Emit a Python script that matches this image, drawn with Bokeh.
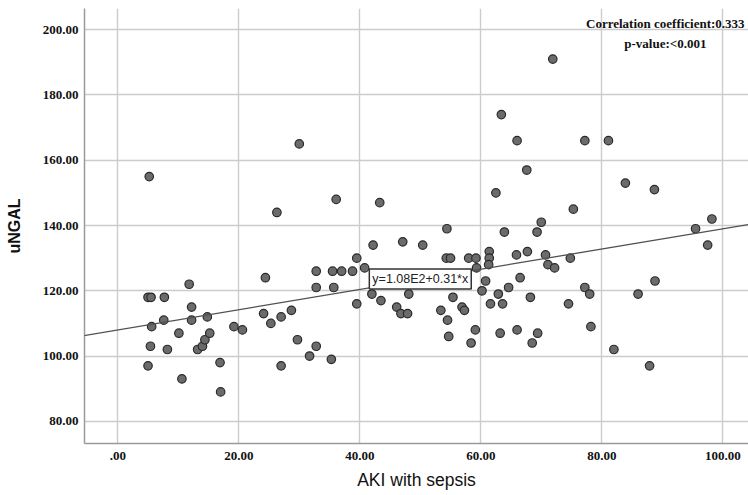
from bokeh.plotting import figure
from bokeh.models import Range1d, FixedTicker, Label, Slope, ColumnDataSource
from bokeh.embed import file_html
from bokeh.resources import INLINE

# ---- data ----
aki = [5.0, 5.2, 5.0, 5.5, 5.6, 5.4, 7.7, 7.6, 8.2, 10.1, 10.6, 11.8, 12.2, 12.2,
       13.2, 14.0, 14.4, 14.8, 15.2, 16.9, 17.0, 19.2, 20.6, 24.1, 24.4, 25.3,
       26.3, 27.0, 27.0, 28.7, 29.7, 30.0, 31.7, 32.8, 32.8, 32.8, 35.3, 35.5,
       35.7, 36.1, 37.0, 38.8, 39.5, 39.5, 40.8, 42.0, 42.2, 43.3, 43.5, 46.1,
       46.8, 47.1, 47.9, 48.1, 50.4, 53.4, 54.4, 54.3, 55.0, 54.5, 54.7, 55.4,
       56.9, 57.3, 58.0, 58.4, 59.1, 59.2, 59.3, 60.2, 60.8, 61.4, 61.4, 61.3,
       61.6, 62.5, 62.9, 63.2, 63.4, 63.6, 63.9, 64.6, 65.9, 66.0, 66.0, 66.5,
       67.6, 67.7, 68.2, 68.5, 69.3, 69.4, 70.0, 70.7, 71.1, 71.9, 72.2, 74.5,
       74.8, 75.3, 77.2, 77.2, 78.0, 78.2, 81.1, 82.0, 83.9, 86.0, 87.9, 88.7,
       88.8, 95.5, 97.5, 98.2]
ungal = [97, 155, 118, 118, 109, 103, 118, 111, 102, 107, 93, 122, 115, 111,
         102, 103, 105, 112, 107, 98, 89, 109, 108, 113, 124, 110,
         144, 112, 97, 114, 105, 165, 100, 126, 121, 103, 99, 126,
         121, 148, 126, 126, 130, 116, 127, 119, 134, 147, 117, 115,
         113, 135, 113, 119, 134, 114, 139, 130, 130, 111, 106, 118,
         115, 114, 130, 104, 108, 130, 127, 120, 123, 132, 130, 128,
         116, 150, 119, 107, 174, 116, 138, 121, 131, 108, 166, 124,
         157, 132, 118, 104, 138, 107, 141, 131, 128, 191, 127, 116,
         130, 145, 166, 121, 119, 109, 166, 102, 153, 119, 97, 151,
         123, 139, 134, 142]

fit_intercept = 108.0
fit_slope = 0.31
fit_text = "y=1.08E2+0.31*x"
corr_text = "Correlation coefficient:0.333"
p_text = "p-value:<0.001"

x_ticks = [0, 20, 40, 60, 80, 100]
x_tick_labels = [".00", "20.00", "40.00", "60.00", "80.00", "100.00"]
y_ticks = [80, 100, 120, 140, 160, 180, 200]
y_tick_labels = ["80.00", "100.00", "120.00", "140.00", "160.00", "180.00", "200.00"]

x_title = "AKI with sepsis"
y_title = "uNGAL"

# ---- figure ----
p = figure(width=748, height=495, output_backend="svg", toolbar_location=None,
           x_range=Range1d(-5.5, 104.25), y_range=Range1d(73.2, 206.5),
           min_border_left=84, min_border_right=0, min_border_top=8,
           min_border_bottom=52)
p.outline_line_color = None
p.background_fill_color = "white"
p.border_fill_color = "white"

serif = "Liberation Serif"
sans = "Liberation Sans"

for ax, ticks, labels in ((p.xaxis[0], x_ticks, x_tick_labels),
                          (p.yaxis[0], y_ticks, y_tick_labels)):
    ax.ticker = FixedTicker(ticks=ticks)
    ax.major_label_overrides = {t: l for t, l in zip(ticks, labels)}
    ax.major_tick_out = 0
    ax.major_tick_in = 0
    ax.minor_tick_out = 0
    ax.minor_tick_in = 0
    ax.axis_line_color = "#9a9a9a"
    ax.axis_line_width = 1.5
    ax.major_label_text_font = serif
    ax.major_label_text_font_style = "bold"
    ax.major_label_text_font_size = "13px"
    ax.major_label_text_color = "#111111"
    ax.axis_label_text_font = sans
    ax.axis_label_text_color = "#111111"

p.xaxis.axis_label = x_title
p.xaxis.axis_label_text_font_style = "normal"
p.xaxis.axis_label_text_font_size = "17.5px"
p.xaxis.major_label_standoff = 8
p.xaxis.axis_label_standoff = 7

p.yaxis.axis_label = y_title
p.yaxis.axis_label_text_font_style = "bold"
p.yaxis.axis_label_text_font_size = "16px"
p.yaxis.major_label_standoff = 6
p.yaxis.axis_label_standoff = 17

p.xgrid.ticker = FixedTicker(ticks=x_ticks)
p.ygrid.ticker = FixedTicker(ticks=y_ticks)
for g in (p.xgrid[0], p.ygrid[0]):
    g.grid_line_color = "#cccccc"
    g.grid_line_width = 1.4

# regression line
p.add_layout(Slope(gradient=fit_slope, y_intercept=fit_intercept,
                   line_color="#505050", line_width=1.3))

src = ColumnDataSource(dict(x=aki, y=ungal))
p.scatter("x", "y", source=src, size=8.5, fill_color="#6b6b6b",
          line_color="#2a2a2a", line_width=1.2)

# fit label box
p.add_layout(Label(x=50, y=123.6, text=fit_text, text_align="center",
                   text_baseline="middle", text_font=sans,
                   text_font_size="12.5px", text_color="#222222",
                   background_fill_color="white", border_line_color="#333333",
                   border_line_width=1.5, padding=3))

# correlation annotation
p.add_layout(Label(x=90.5, y=201.8, text=corr_text, text_align="center",
                   text_baseline="middle", text_font=serif,
                   text_font_style="bold", text_font_size="13px",
                   text_color="#111111"))
p.add_layout(Label(x=90.5, y=195.9, text=p_text, text_align="center",
                   text_baseline="middle", text_font=serif,
                   text_font_style="bold", text_font_size="13px",
                   text_color="#111111"))

open("out.html", "w").write(file_html(p, INLINE))
